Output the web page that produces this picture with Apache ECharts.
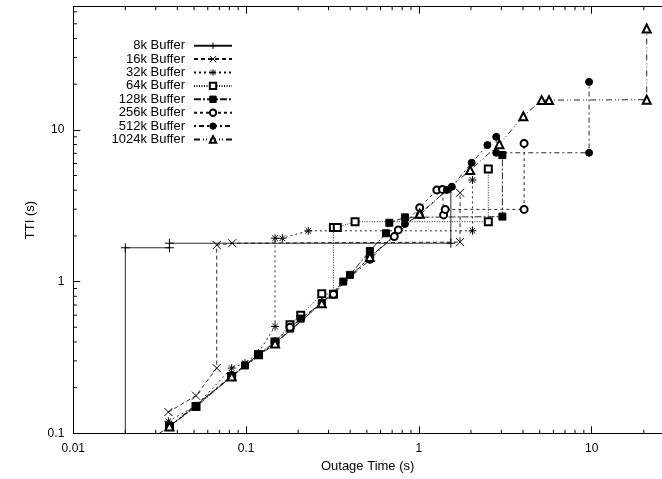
<!DOCTYPE html>
<html><head><meta charset="utf-8">
<script src="https://cdn.jsdelivr.net/npm/echarts@6/dist/echarts.min.js"></script>
<style>html,body{margin:0;padding:0;background:#fff}#c{width:662px;height:479px}</style>
</head><body><div id="c"></div>
<script>
// ---- data (outage time s, TTI s) ----
const names = ['8k Buffer','16k Buffer','32k Buffer','64k Buffer','128k Buffer','256k Buffer','512k Buffer','1024k Buffer'];
const x8k = [0.02, 0.02, 0.036, 0.036, 1.53, 1.53];
const y8k = [0.06, 1.67, 1.67, 1.79, 1.79, 4.12];
const x16k = [0.0355, 0.0513, 0.0676, 0.0676, 0.083, 1.73, 1.73];
const y16k = [0.138, 0.177, 0.269, 1.74, 1.79, 1.82, 3.85];
const x32k = [0.0355, 0.0513, 0.0825, 0.0985, 0.1177, 0.147, 0.147, 0.162, 0.229, 2.04, 2.04];
const y32k = [0.12, 0.152, 0.269, 0.29, 0.338, 0.506, 1.93, 1.93, 2.16, 2.16, 4.67];
const x64k = [0.036, 0.0513, 0.0825, 0.118, 0.147, 0.1795, 0.207, 0.274, 0.32, 0.32, 0.337, 0.427, 2.52, 2.52];
const y64k = [0.111, 0.15, 0.237, 0.33, 0.4, 0.519, 0.6, 0.83, 0.826, 2.27, 2.27, 2.48, 2.48, 5.51];
const x128k = [0.02, 0.036, 0.0513, 0.0825, 0.0985, 0.118, 0.147, 0.18, 0.207, 0.274, 0.365, 0.399, 0.52, 0.645, 0.674, 0.83, 3.04, 3.04];
const y128k = [0.07, 0.111, 0.15, 0.237, 0.28, 0.33, 0.389, 0.49, 0.57, 0.721, 1.0, 1.107, 1.59, 2.08, 2.44, 2.65, 2.68, 6.82];
const x256k = [0.036, 0.0825, 0.147, 0.1795, 0.32, 0.52, 0.72, 0.76, 1.01, 1.27, 1.37, 1.39, 1.42, 4.06, 4.06];
const y256k = [0.111, 0.24, 0.4, 0.5, 0.826, 1.45, 1.98, 2.19, 3.07, 4.01, 4.05, 2.75, 2.99, 2.99, 8.14];
const x512k = [0.036, 0.0825, 0.147, 0.274, 0.52, 0.83, 1.01, 1.45, 1.55, 2.02, 2.49, 2.8, 2.8, 9.65, 9.65];
const y512k = [0.111, 0.237, 0.39, 0.72, 1.39, 2.4, 2.75, 4.01, 4.22, 6.07, 7.93, 9.0, 7.06, 7.06, 20.7];
const x1024k = [0.036, 0.0825, 0.147, 0.274, 0.52, 1.01, 1.98, 2.92, 4.02, 5.13, 5.66, 20.8, 20.8];
const y1024k = [0.111, 0.237, 0.39, 0.72, 1.45, 2.8, 5.43, 8.05, 12.3, 15.7, 15.7, 15.8, 46.5];
const xTickLabels = ['0.01','0.1','1','10'];
const yTickLabels = ['0.1','1','10'];
const xMinorTicks = [0.02,0.03,0.04,0.05,0.06,0.07,0.08,0.09,0.2,0.3,0.4,0.5,0.6,0.7,0.8,0.9,2,3,4,5,6,7,8,9,20];
const yMinorTicks = [0.2,0.3,0.4,0.5,0.6,0.7,0.8,0.9,2,3,4,5,6,7,8,9,20,30,40,50,60];

const XMIN = 0.01, XMAX = 25.5, YMIN = 0.1, YMAX = 64.8;
const FONT = 'Liberation Sans';
const xs = [x8k,x16k,x32k,x64k,x128k,x256k,x512k,x1024k];
const ys = [y8k,y16k,y32k,y64k,y128k,y256k,y512k,y1024k];
const symbols = [
  'path://M0,5L10,5M5,0L5,10',
  'path://M0,0L10,10M10,0L0,10',
  'path://M0,5L10,5M5,0L5,10M1.5,1.5L8.5,8.5M8.5,1.5L1.5,8.5',
  'emptyRect','rect','emptyCircle','circle','emptyTriangle'
];
const sizes = [9,8,8,7,7,7,7,8];
const dashes = ['solid',[4,3],[2,3],[1,1.5],[7,2,2,2],[3,3],[2,3,5,3],[6,3,1,2,1,3]];

const series = names.map((n,i)=>({
  name: n, type: 'line',
  data: xs[i].map((x,j)=>[x, ys[i][j]]),
  symbol: symbols[i], symbolSize: sizes[i], showAllSymbol: true,
  lineStyle: {color:'#111', width: 0.9, type: dashes[i]},
  itemStyle: {color:'#000', borderColor:'#000', borderWidth: 1, borderType: 'solid'},
  clip: true, z: 3
}));

// minor ticks drawn through the axes' own scales (bottom/top and left)
series.push({
  type: 'custom', silent: true, z: 4, clip: false,
  data: xMinorTicks.map(v=>[v,1,0]).concat(yMinorTicks.map(v=>[1,v,1])),
  renderItem: function(params, api){
    const kind = api.value(2);
    if (kind === 0) {
      const v = api.value(0);
      const b = api.coord([v, YMIN]), t = api.coord([v, YMAX]);
      return {type:'group', children:[
        {type:'line', shape:{x1:b[0],y1:b[1],x2:b[0],y2:b[1]-3.5}, style:{stroke:'#000',lineWidth:1}},
        {type:'line', shape:{x1:t[0],y1:t[1],x2:t[0],y2:t[1]+3.5}, style:{stroke:'#000',lineWidth:1}}
      ]};
    } else {
      const v = api.value(1);
      const l = api.coord([XMIN, v]);
      return {type:'line', shape:{x1:l[0],y1:l[1],x2:l[0]+3.5,y2:l[1]}, style:{stroke:'#000',lineWidth:1}};
    }
  }
});

const axisCommon = {
  type: 'log', logBase: 10,
  axisLine: {show: true, lineStyle: {color:'#000', width: 1}},
  axisTick: {show: true, inside: true, length: 7, lineStyle:{color:'#000'}},
  minorTick: {show: false}, splitLine: {show: false},
  axisLabel: {color:'#000', fontFamily: FONT, fontSize: 12, showMaxLabel: false},
  nameTextStyle: {color:'#000', fontFamily: FONT, fontSize: 13}
};

const chart = echarts.init(document.getElementById('c'), null, {renderer:'canvas'});
chart.setOption({
  animation: false,
  backgroundColor: '#fff',
  grid: {left: 73.3, top: 6.7, right: 0, bottom: 45.7, containLabel: false},
  xAxis: [
    Object.assign({}, axisCommon, {min: XMIN, max: XMAX, position:'bottom',
      name: 'Outage Time (s)', nameLocation: 'middle', nameGap: 27,
      axisLabel: Object.assign({}, axisCommon.axisLabel, {margin: 9,
        formatter: v => xTickLabels.find(s => Math.abs(parseFloat(s)-v) < 1e-9*Math.max(1,v)) || ''})}),
    Object.assign({}, axisCommon, {min: XMIN, max: XMAX, position:'top', axisLabel:{show:false}})
  ],
  yAxis: [
    Object.assign({}, axisCommon, {min: YMIN, max: YMAX, position:'left',
      name: 'TTI (s)', nameLocation: 'middle', nameGap: 34, nameRotate: 90,
      axisLabel: Object.assign({}, axisCommon.axisLabel, {margin: 9,
        formatter: v => yTickLabels.find(s => Math.abs(parseFloat(s)-v) < 1e-9*Math.max(1,v)) || ''})})
  ],
  legend: {
    orient: 'vertical', left: 102, top: 34, align: 'right',
    itemWidth: 38, itemHeight: 8, itemGap: 0,
    data: names,
    itemStyle: {borderType: 'solid', borderWidth: 1},
    textStyle: {color:'#000', fontFamily: FONT, fontSize: 13, width: 78, align: 'right', padding:[0,4,0,0], lineHeight: 13.4},
    inactiveColor: '#000'
  },
  series: series
});
</script></body></html>
